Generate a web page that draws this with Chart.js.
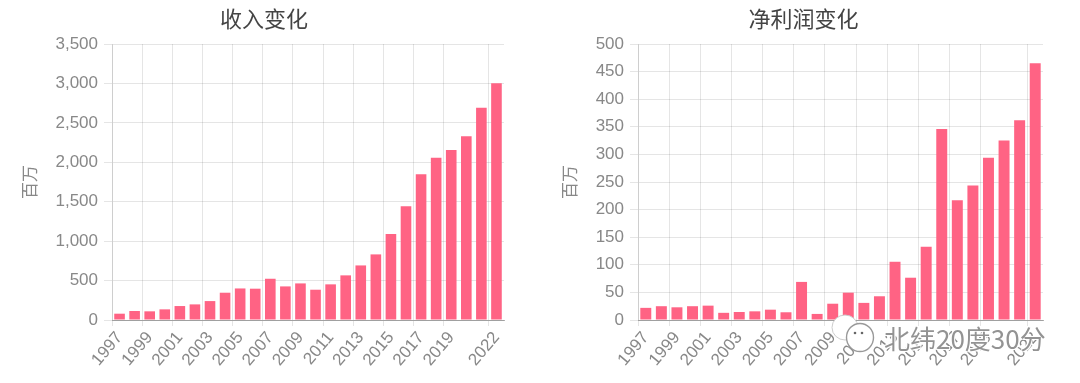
<!DOCTYPE html>
<html><head><meta charset="utf-8">
<script src="https://cdn.jsdelivr.net/npm/chart.js@4"></script>
<style>
html,body{margin:0;padding:0;background:#fff;width:1080px;height:383px;overflow:hidden}
.c{position:absolute;top:0;width:540px;height:383px;filter:blur(.45px)}
#wm{position:absolute;left:884px;top:319px;font:26px "Noto Sans CJK SC","Liberation Sans",sans-serif;color:rgba(120,120,120,.8);white-space:nowrap;text-shadow:1px 1px 0 #fff,-1px -1px 0 #fff,1px -1px 0 #fff,-1px 1px 0 #fff;filter:blur(.35px)}
#ic{position:absolute;left:830px;top:312px;filter:blur(.3px)}
</style></head><body>
<div class="c" style="left:0"><canvas id="a" width="540" height="383"></canvas></div>
<div class="c" style="left:540px"><canvas id="b" width="540" height="383"></canvas></div>
<svg id="ic" width="50" height="44" viewBox="0 0 50 44">
<ellipse cx="15" cy="15.5" rx="13" ry="12.5" fill="#fff" stroke="#ccc" stroke-width="1"/>
<ellipse cx="30" cy="25.5" rx="13.5" ry="14" fill="#fff" stroke="#999" stroke-width="1.4"/>
<circle cx="25" cy="21" r="1.3" fill="#666"/><circle cx="32" cy="21" r="1.3" fill="#666"/>
</svg>
<div id="wm">北纬20度30分</div>
<script>
const years=["1997","1998","1999","2000","2001","2002","2003","2004","2005","2006","2007","2008","2009","2010","2011","2012","2013","2014","2015","2016","2017","2018","2019","2020","2021","2022"];
const shownYears=["1997","1999","2001","2003","2005","2007","2009","2011","2013","2015","2017","2019","2022"];
const revenue=[80,114,110,135,177,198,240,346,400,397,523,426,464,384,452,566,692,832,1089,1444,1849,2056,2157,2330,2693,3002];
const profit=[22,25,23,25,26,13,14.5,15.7,18.7,14,69,11,29.5,49.5,31,43,105.5,76.6,132.7,346,217,243.7,294,325,362,465];

function make(id,title,values,max,step,plotLeft,plotRight,barPct){
  new Chart(document.getElementById(id),{
    type:'bar',
    data:{labels:years,datasets:[{data:values,backgroundColor:'#ff6384',borderWidth:0,barPercentage:barPct,categoryPercentage:.8}]},
    options:{
      responsive:false,animation:false,
      layout:{padding:{left:24,right:540-plotRight,top:0,bottom:0}},
      plugins:{legend:{display:false},tooltip:{enabled:false},
        title:{display:true,text:title,color:'#444',font:{family:'"Noto Sans CJK SC"',size:22,weight:'normal'},padding:{top:5,bottom:12.6}}},
      scales:{
        x:{
          grid:{offset:true,tickLength:6,color:c=>(c.tick&&shownYears.includes(years[c.index]))?'rgba(0,0,0,.1)':'rgba(0,0,0,0)'},
          border:{color:'rgba(0,0,0,.3)'},
          afterFit:s=>{s.height=63},
          ticks:{autoSkip:false,minRotation:50,maxRotation:50,padding:2,color:'#888',
            font:{family:'"Liberation Sans"',size:17},
            callback:function(v){const y=this.getLabelForValue(v);return shownYears.includes(y)?y:''}}
        },
        y:{
          min:0,max:max,
          grid:{color:'rgba(0,0,0,.1)',tickLength:8},
          border:{color:'rgba(0,0,0,.1)'},
          afterFit:s=>{s.width=plotLeft-24},
          title:{display:true,text:'百万',color:'#888',font:{family:'"Noto Sans CJK SC"',size:17},padding:{top:-5,bottom:0}},
          ticks:{stepSize:step,padding:6,color:'#888',font:{family:'"Liberation Sans"',size:17}}
        }
      }
    }
  });
}
make('a','收入变化',revenue,3500,500,112,504,.88);
make('b','净利润变化',profit,500,50,98,503,.88);
</script>
</body></html>
